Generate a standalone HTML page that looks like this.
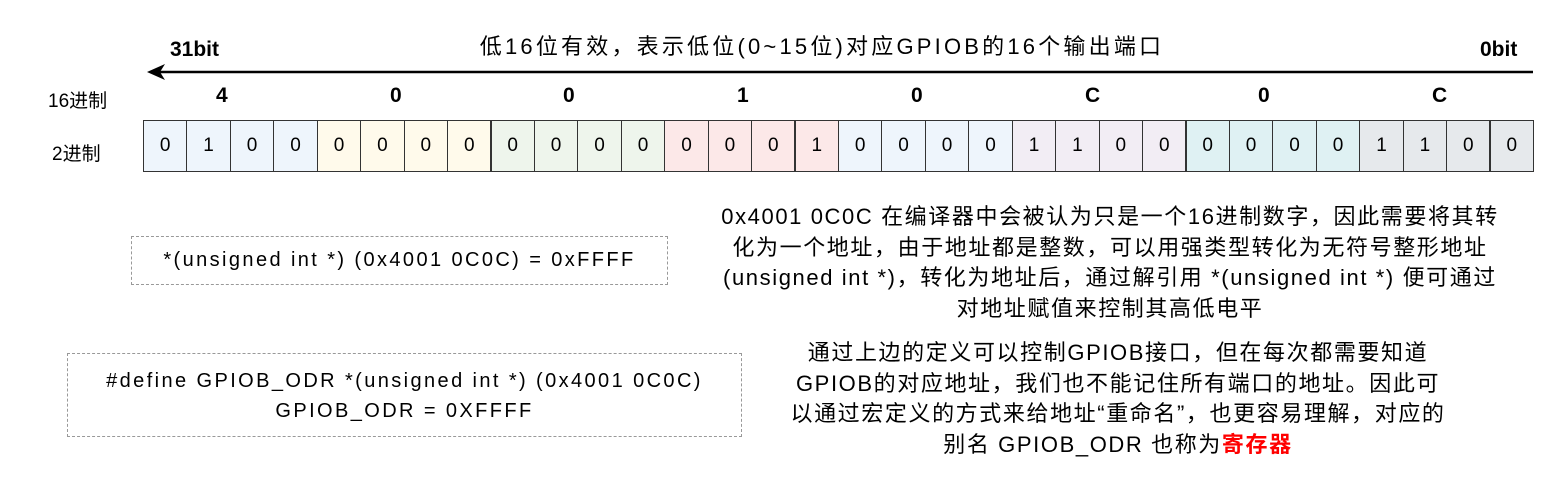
<!DOCTYPE html>
<html><head><meta charset="utf-8"><style>
body{margin:0;width:1560px;height:480px;background:#fff;position:relative;overflow:hidden;font-family:"Liberation Sans","Noto Sans CJK SC",sans-serif;color:#000}
.a{position:absolute;white-space:nowrap}
.c{position:absolute;top:120px;height:52px;border:1px solid #333;box-sizing:border-box;text-align:center;line-height:50px;font-size:19px}
.b{font-weight:bold;font-size:21px}
.t{position:absolute;text-align:center;font-size:22px;letter-spacing:1.6px;line-height:30.5px;white-space:nowrap}
.box{position:absolute;border:1.5px dashed #999;box-sizing:border-box;text-align:center;font-size:20px;letter-spacing:2.4px}
</style></head><body>
<div class="a" style="left:822px;top:29px;font-size:22px;letter-spacing:3.2px;transform:translateX(-50%)">低16位有效，表示低位(0~15位)对应GPIOB的16个输出端口</div>
<div class="a b" style="left:170px;top:38px">31bit</div>
<div class="a b" style="left:1480px;top:38px">0bit</div>
<svg class="a" style="left:0;top:0" width="1560" height="100"><line x1="155" y1="72" x2="1533" y2="72" stroke="#000" stroke-width="2.5"/><path d="M147 72 L165 64 L160 72 L165 80 Z" fill="#000"/></svg>
<div class="a" style="left:48px;top:86px;font-size:19px">16进制</div>
<div class="a" style="left:52px;top:139px;font-size:19px">2进制</div>
<div id="g"></div>
<div class="box" style="left:131px;top:236px;width:537px;height:49px;line-height:46px">*(unsigned int *) (0x4001 0C0C) = 0xFFFF</div>
<div class="box" style="left:67px;top:353px;width:675px;height:84px;padding-top:12px;line-height:30px">#define GPIOB_ODR *(unsigned int *) (0x4001 0C0C)<br>GPIOB_ODR = 0XFFFF</div>
<div class="t" style="left:1110px;top:202px;transform:translateX(-50%)">0x4001 0C0C 在编译器中会被认为只是一个16进制数字，因此需要将其转<br>化为一个地址，由于地址都是整数，可以用强类型转化为无符号整形地址<br>(unsigned int *)，转化为地址后，通过解引用 *(unsigned int *) 便可通过<br>对地址赋值来控制其高低电平</div>
<div class="t" style="left:1118px;top:338px;transform:translateX(-50%)">通过上边的定义可以控制GPIOB接口，但在每次都需要知道<br>GPIOB的对应地址，我们也不能记住所有端口的地址。因此可<br>以通过宏定义的方式来给地址“重命名”，也更容易理解，对应的<br>别名 GPIOB_ODR 也称为<b style="color:#f00">寄存器</b></div>
<script>
var bits="01000000000000010000110000001100",hex="4001 0C0C".replace(" ","");
var cols=["#eef5fc","#fffaeb","#eef5ec","#fce8e8","#eef5fc","#f2edf4","#dff1f3","#e6e9ec"];
var h="",w=1390/32;
for(var i=0;i<32;i++){var x=143+i*w;h+='<div class="c" style="left:'+x.toFixed(1)+'px;width:'+(w+1).toFixed(1)+'px;background:'+cols[i>>2]+'">'+bits[i]+'</div>';}
for(var j=0;j<8;j++){var cx=143+j*4*w+2*w-6;h+='<div class="a b" style="left:'+(cx-8).toFixed(0)+'px;top:84px">'+hex[j]+'</div>';}
document.getElementById("g").innerHTML=h;
</script>
</body></html>
